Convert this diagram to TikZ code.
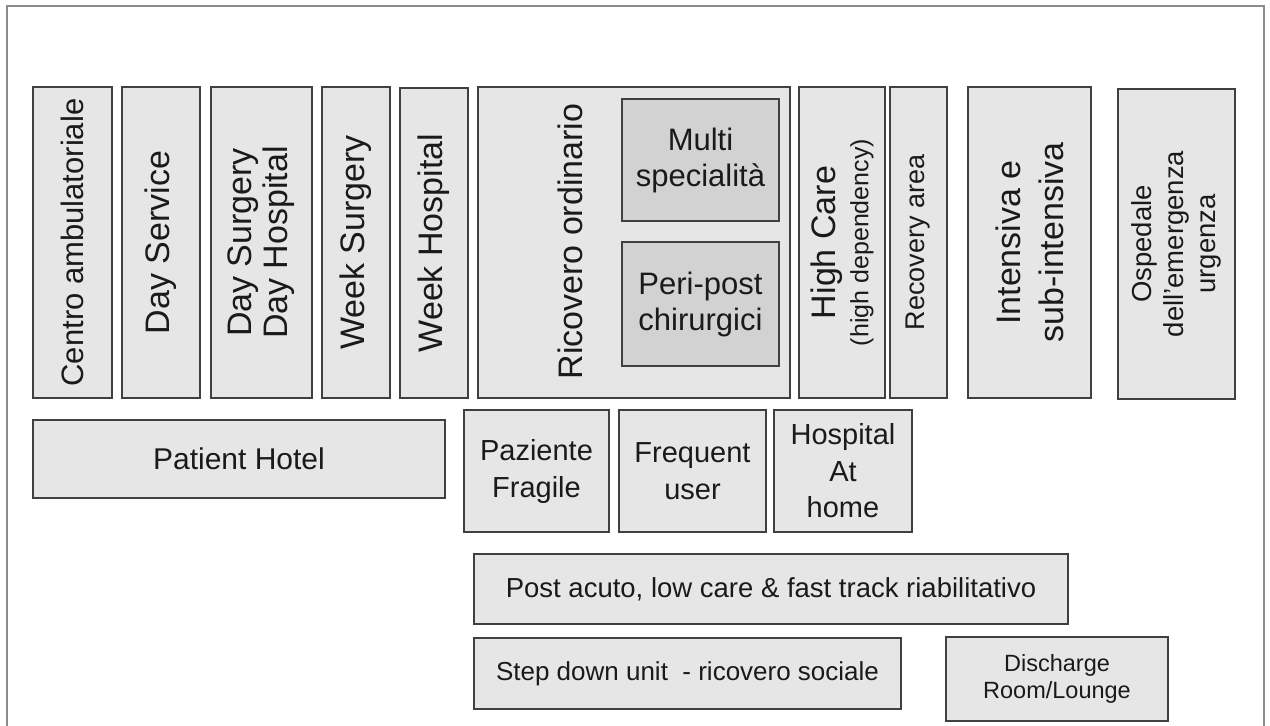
\documentclass[tikz,border=0pt]{standalone}
\usepackage{fontspec}
\setmainfont{Liberation Sans}
\newcommand{\fsz}[2]{\fontsize{#1}{#2}\selectfont}
\definecolor{boxfill}{HTML}{E6E6E6}
\definecolor{innerfill}{HTML}{D2D2D2}
\definecolor{bordc}{HTML}{404040}
\definecolor{framec}{HTML}{8C8C8C}
\definecolor{txt}{HTML}{1A1A1A}
\tikzset{
  bx/.style={draw=bordc, line width=1.8pt, fill=boxfill, inner sep=0pt, align=center, text=txt},
  rbx/.style={bx, rotate=90},
  ibx/.style={bx, fill=innerfill},
  rtxt/.style={inner sep=0pt, align=center, text=txt, rotate=90}
}
\begin{document}
\begin{tikzpicture}[x=1pt, y=-1pt]
\useasboundingbox (0,0) rectangle (1270,726);
\fill[white] (0,0) rectangle (1270,726);
\coordinate (f1) at (7,726);
\coordinate (f2) at (7,6);
\coordinate (f3) at (1264,6);
\coordinate (f4) at (1264,726);
\draw[framec, line width=1.5pt] (f1) -- (f2) -- (f3) -- (f4);

% top row
\node[rbx, minimum width=311pt, minimum height=79pt, font=\fsz{31}{36}] (cen) at (72.5,242.5) {Centro ambulatoriale};
\node[rbx, minimum width=311pt, minimum height=78pt, font=\fsz{34}{37}] (dse) at (161,242.5) {Day Service};
\node[rbx, minimum width=311pt, minimum height=101pt, font=\fsz{34}{36}] (dsu) at (261.5,242.5) {Day Surgery\\Day Hospital};
\node[rbx, minimum width=311pt, minimum height=68pt, font=\fsz{34}{37}] (wsu) at (356,242.5) {Week Surgery};
\node[rbx, minimum width=310pt, minimum height=68pt, font=\fsz{34}{37}] (who) at (434,243) {Week Hospital};
\node[rbx, minimum width=311pt, minimum height=312pt] (ric) at (634,242.5) {};
\node[rtxt, font=\fsz{34}{37}] (rict) at (570,241.5) {Ricovero ordinario};
\node[ibx, minimum width=157pt, minimum height=122pt, font=\fsz{31}{36}] (mul) at (700.5,160) {Multi\\specialità};
\node[ibx, minimum width=157pt, minimum height=124pt, font=\fsz{31}{36}] (per) at (700.5,304) {Peri-post\\chirurgici};
\node[rbx, minimum width=311pt, minimum height=86pt] (hc) at (842,242.5) {\fsz{34}{37}High Care\\[7pt]\fsz{25}{30}(high dependency)};
\node[rbx, minimum width=311pt, minimum height=57pt, font=\fsz{27}{32}] (rec) at (918.5,242.5) {Recovery area};
\node[rbx, minimum width=311pt, minimum height=123pt, font=\fsz{34}{43}] (int) at (1029.5,242.5) {Intensiva e\\sub-intensiva};
\node[rbx, minimum width=310pt, minimum height=117pt, font=\fsz{27.5}{32}] (osp) at (1176.5,244) {Ospedale\\dell'emergenza\\urgenza};

% second row
\node[bx, minimum width=412pt, minimum height=78pt, font=\fsz{30}{36}] (ph) at (239,459) {Patient Hotel};
\node[bx, minimum width=145pt, minimum height=122pt, font=\fsz{29}{37}] (pf) at (536.5,471) {Paziente\\Fragile};
\node[bx, minimum width=147pt, minimum height=122pt, font=\fsz{29}{37}] (fu) at (692.5,471) {Frequent\\user};
\node[bx, minimum width=138pt, minimum height=122pt, font=\fsz{29}{36.5}] (hah) at (843,471) {Hospital\\At\\home};

% bottom rows
\node[bx, minimum width=594pt, minimum height=70pt, font=\fsz{27.5}{32}] (pa) at (771,589) {Post acuto, low care \& fast track riabilitativo};
\node[bx, minimum width=427pt, minimum height=71pt, font=\fsz{26}{32}] (sd) at (687.5,673.5) {Step down unit \ - ricovero sociale};
\node[bx, minimum width=222pt, minimum height=84pt, font=\fsz{23.5}{27}] (dis) at (1057,679) {Discharge\\Room/Lounge};
\end{tikzpicture}
\end{document}
